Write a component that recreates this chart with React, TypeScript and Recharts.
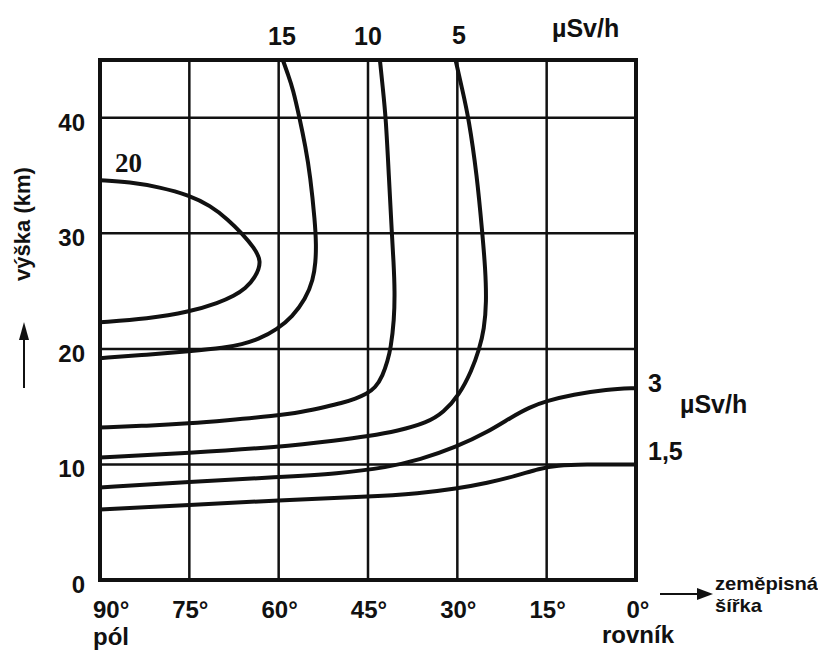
import React from 'react';
import { LineChart, Line, XAxis, YAxis, CartesianGrid, ReferenceArea } from 'recharts';

// axes
const latTicks = [90, 75, 60, 45, 30, 15, 0];
const altTicks = [0, 10, 20, 30, 40];

// isolines of dose rate (µSv/h): latitude (deg) vs altitude (km)
const lat20 = [90, 85, 80, 75, 71.5, 68.5, 66, 64.2, 62.8, 63.9, 65.6, 67.5, 70, 75, 82, 90];
const alt20 = [34.6, 34.45, 34.0, 33.3, 32.4, 31.2, 29.9, 28.8, 27.6, 26.2, 25.2, 24.6, 24.0, 23.2, 22.6, 22.3];

const lat15 = [59.3, 58.4, 57.6, 56.5, 55.5, 54.7, 53.9, 53.7, 53.8, 54.2, 55.5, 57.7, 60.2, 63.5, 66.2, 69, 75, 82, 90];
const alt15 = [45, 43.7, 42.5, 40, 37.5, 35, 31, 29, 27.5, 26, 24.3, 22.8, 21.7, 20.8, 20.4, 20.1, 19.8, 19.5, 19.2];

const lat10 = [43, 42.5, 42, 41.5, 41, 40.7, 40.5, 40.6, 41.2, 41.7, 42.5, 43.8, 45.3, 47, 49.5, 52, 56, 60.7, 69, 75, 82, 90];
const alt10 = [45, 42.5, 40, 35, 30, 27.5, 25, 22.5, 20, 19, 17.7, 16.6, 16.1, 15.7, 15.3, 15.0, 14.55, 14.2, 13.8, 13.55, 13.35, 13.2];

const lat5 = [30.3, 29.2, 28.1, 26.7, 25.8, 25.3, 25.1, 25.5, 26.3, 27.6, 29.7, 32.3, 35.1, 40, 45, 50, 60, 75, 90];
const alt5 = [45, 42.5, 40, 35, 30, 27, 24, 21.7, 20, 18.1, 16, 14.5, 13.6, 12.9, 12.45, 12.1, 11.5, 11, 10.6];

const lat3 = [90, 75, 60, 50, 41.7, 36.3, 30.2, 24.9, 20.9, 17.9, 15, 10.6, 4.9, 0];
const alt3 = [8.0, 8.5, 8.9, 9.2, 9.75, 10.4, 11.5, 12.8, 14.1, 14.95, 15.5, 16.05, 16.5, 16.6];

const lat1_5 = [90, 75, 60, 45, 36.3, 30.2, 24.9, 20.2, 16.2, 13.2, 9, 0];
const alt1_5 = [6.1, 6.5, 6.9, 7.2, 7.5, 7.9, 8.4, 9.0, 9.65, 9.93, 10, 10];

const zip = (lats: number[], alts: number[]) => lats.map((lat, i) => ({ lat, alt: alts[i] }));

const curves = [
  { name: '20', data: zip(lat20, alt20) },
  { name: '15', data: zip(lat15, alt15) },
  { name: '10', data: zip(lat10, alt10) },
  { name: '5', data: zip(lat5, alt5) },
  { name: '3', data: zip(lat3, alt3) },
  { name: '1,5', data: zip(lat1_5, alt1_5) },
];

const FONT = '"Liberation Sans", Arial, Helvetica, sans-serif';
const W = 810;
const H = 647;

const XTick = (props: any) => {
  const { x, y, payload } = props;
  const v = payload.value;
  const base = y + 38;
  const style = { fontFamily: FONT, fontWeight: 700, fontSize: 24, fill: '#111' };
  if (v === 90) {
    return (
      <g>
        <text x={x - 7} y={base} textAnchor="start" style={style}>90°</text>
        <text x={x - 7} y={base + 27} textAnchor="start" style={style}>pól</text>
      </g>
    );
  }
  if (v === 0) {
    return (
      <g>
        <text x={x + 2} y={base} textAnchor="middle" style={style}>0°</text>
        <text x={x + 2} y={base + 25} textAnchor="middle" style={style}>rovník</text>
      </g>
    );
  }
  return <text x={x + 1} y={base} textAnchor="middle" style={style}>{`${v}°`}</text>;
};

const YTick = (props: any) => {
  const { x, y, payload } = props;
  return (
    <text x={x - 15} y={y + 13} textAnchor="end"
      style={{ fontFamily: FONT, fontWeight: 700, fontSize: 24, fill: '#111' }}>
      {payload.value}
    </text>
  );
};

const Annotations = () => {
  const t = { fontFamily: FONT, fontWeight: 700, fill: '#111' };
  return (
    <svg width={W} height={H} style={{ position: 'absolute', left: 0, top: 0, pointerEvents: 'none' }}>
      {/* curve labels at the top */}
      <text x={274} y={37} textAnchor="middle" style={{ ...t, fontSize: 25 }}>15</text>
      <text x={360} y={37} textAnchor="middle" style={{ ...t, fontSize: 25 }}>10</text>
      <text x={451} y={36} textAnchor="middle" style={{ ...t, fontSize: 25 }}>5</text>
      <text x={544} y={29} style={{ ...t, fontSize: 25 }}>µSv/h</text>
      <text x={107} y={164} style={{ fontFamily: '"Liberation Serif", "Times New Roman", serif', fontWeight: 700, fontSize: 27, fill: '#111' }}>20</text>
      {/* curve labels on the right */}
      <text x={640} y={384} style={{ ...t, fontSize: 25 }}>3</text>
      <text x={672} y={405} style={{ ...t, fontSize: 25 }}>µSv/h</text>
      <text x={640} y={452} style={{ ...t, fontSize: 25 }}>1,5</text>
      {/* y axis title with arrow */}
      <text transform="translate(22,216) rotate(-90)" textAnchor="middle" style={{ ...t, fontSize: 22 }}>výška (km)</text>
      <line x1={16} y1={380} x2={16} y2={328} stroke="#111" strokeWidth={2} />
      <polygon points="16,314 11,332 21,332" fill="#111" />
      {/* x axis title with arrow */}
      <line x1={652} y1={586} x2={700} y2={586} stroke="#111" strokeWidth={2} />
      <polygon points="705,586 689,580 689,592" fill="#111" />
      <text x={707} y={582} textLength={103} lengthAdjust="spacingAndGlyphs" style={{ ...t, fontSize: 19 }}>zeměpisná</text>
      <text x={707} y={604} textLength={47} lengthAdjust="spacingAndGlyphs" style={{ ...t, fontSize: 19 }}>šířka</text>
    </svg>
  );
};

const App: React.FC = () => {
  return (
    <div style={{ position: 'relative', width: W, height: H, background: '#fff' }}>
      <LineChart width={W} height={H} margin={{ top: 52, right: 182, bottom: 35, left: 32 }}>
        <CartesianGrid stroke="#111" strokeWidth={2.5} />
        <XAxis
          dataKey="lat"
          type="number"
          domain={[0, 90]}
          reversed
          ticks={latTicks}
          interval={0}
          height={40}
          axisLine={false}
          tickLine={false}
          tickSize={0}
          tickMargin={0}
          tick={<XTick />}
          allowDataOverflow
        />
        <YAxis
          dataKey="alt"
          type="number"
          domain={[0, 45]}
          ticks={altTicks}
          interval={0}
          width={60}
          axisLine={false}
          tickLine={false}
          tickSize={0}
          tickMargin={0}
          tick={<YTick />}
          allowDataOverflow
        />
        <ReferenceArea x1={0} x2={90} y1={0} y2={45} fill="none" fillOpacity={0} stroke="#111" strokeWidth={4} />
        {curves.map((c) => (
          <Line
            key={c.name}
            data={c.data}
            dataKey="alt"
            name={c.name}
            type="basis"
            stroke="#111"
            strokeWidth={4}
            dot={false}
            activeDot={false}
            isAnimationActive={false}
          />
        ))}
      </LineChart>
      <Annotations />
    </div>
  );
};

export default App;
